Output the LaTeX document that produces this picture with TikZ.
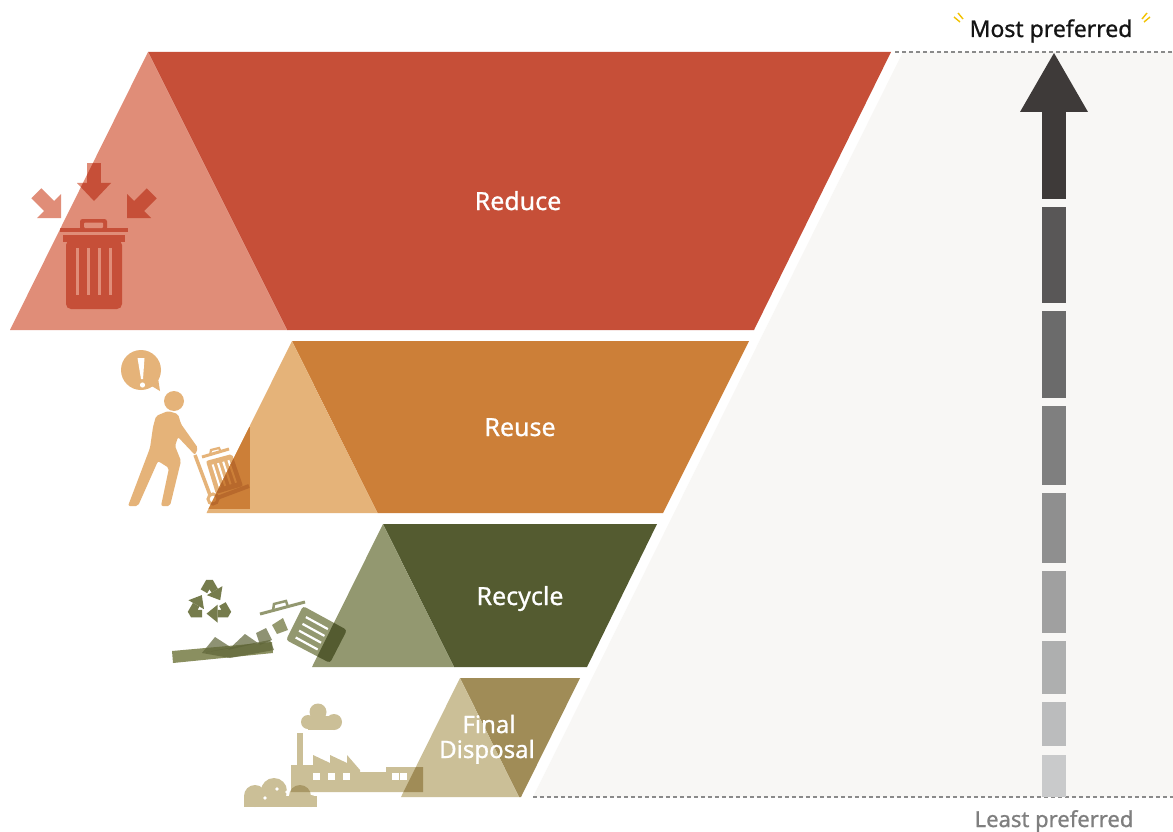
\documentclass[tikz,border=0pt]{standalone}
\usepackage{fontspec}
\setmainfont{Noto Sans}
\newfontfamily\medfont[FakeBold=0.9]{Noto Sans}
\definecolor{redD}{HTML}{C64F38}
\definecolor{redL}{HTML}{E08D78}
\definecolor{orgD}{HTML}{CC7F38}
\definecolor{orgL}{HTML}{E5B379}
\definecolor{orgX}{HTML}{B8692C}
\definecolor{grnD}{HTML}{545B30}
\definecolor{grnL}{HTML}{939870}
\definecolor{grnS}{HTML}{767C4D}
\definecolor{grnM}{HTML}{8A8F60}
\definecolor{grnK}{HTML}{5F6538}
\definecolor{tanD}{HTML}{A08C57}
\definecolor{tanL}{HTML}{CBBF97}
\definecolor{tanO}{HTML}{A99866}
\definecolor{bgG}{HTML}{F8F7F5}
\definecolor{dashG}{HTML}{8A8A8A}
\definecolor{spark}{HTML}{F2C200}
\newcommand\icnReduce[2]{%
 \fill[#1] (87,163) rectangle (101,183);
 \fill[#1] (77,183) -- (111,183) -- (94,201) -- cycle;
 \fill[#1] (61,218) -- (61,194) -- (54,201) -- (41.3,188.3) -- (31.3,198.3) -- (44,211) -- (37,218) -- cycle;
 \fill[#1] (127,218) -- (127,194) -- (134,201) -- (146.7,188.3) -- (156.7,198.3) -- (144,211) -- (151,218) -- cycle;
 \fill[#1] (60,228) rectangle (128,232);
 \fill[#1,rounded corners=2.5] (80,219) rectangle (107,230);
 \fill[#2,rounded corners=1] (84,222.5) rectangle (103,228);
 \fill[#1] (63,235) rectangle (125,242);
 \fill[#1,rounded corners=5] (66,240) -- (66,309) -- (122,309) -- (122,240) -- cycle;
 \foreach \sx in {76,87,98,109} {\fill[#2] (\sx,248) rectangle (\sx+3,295);}
}
\newcommand\icnCart[2]{%
 \draw[#1,line width=3.5] (195,455) -- (210,495);
 \draw[#1,line width=3] (213,499) circle (5);
 \draw[#1,line width=4] (217,498) -- (249,486);
 \draw[#1,line width=3] (202,457) -- (229,449);
 \draw[#1,line width=2.2] (210,455) -- (211,450) -- (219,448) -- (221,452);
 \fill[#1,rounded corners=2] (206,461) -- (232,454) -- (243,486) -- (216,494) -- cycle;
 \foreach \a/\b/\c/\d in {212.7/464.5/219.9/487.5, 218.0/463.1/225.2/485.9, 223.2/461.7/230.6/484.3, 228.4/460.2/236.0/482.7}
  {\draw[#2,line width=2] (\a,\b) -- (\c,\d);}
}
\newcommand\icnRecCan[2]{%
 \draw[#1,line width=3] (260,614) -- (305,602);
 \draw[#1,line width=2.5] (273,611) -- (274,604) -- (286,601) -- (288,607);
 \fill[#1,rounded corners=3] (303,606) -- (347,630) -- (330,663) -- (286,640) -- cycle;
 \foreach \a/\b/\c/\d in {305.9/617.1/327.9/629.1, 302.5/623.9/324.5/635.9, 299.1/630.7/321.1/642.7, 295.7/637.5/317.7/649.5}
  {\draw[#2,line width=2.2] (\a,\b) -- (\c,\d);}
}
\newcommand\icnFactory[1]{%
 \fill[#1] (318,712) circle (8.5);
 \fill[#1] (308,722) circle (7);
 \fill[#1] (334,722) circle (8);
 \fill[#1] (308,716) rectangle (334,730);
 \fill[#1] (297,733) rectangle (303,766);
 \fill[#1] (291,792) -- (291,765) -- (313,765) -- (313,755) -- (330,763) -- (330,755) -- (347,763) -- (347,755) -- (360,770) -- (360,772) -- (386,772) -- (386,767) -- (423,767) -- (423,792) -- cycle;
}
\newcommand\icnBush[1]{%
 \fill[#1] (255,796) circle (11);
 \fill[#1] (274,791) circle (13);
 \fill[#1] (300,796) circle (11);
 \fill[#1] (311,801) circle (6);
 \fill[#1] (244,796) rectangle (317,807);
}
\begin{document}
\begin{tikzpicture}[x=1pt,y=-1pt,
  bandlabel/.style={text=white,font=\medfont\fontsize{25}{22}\selectfont,inner sep=0pt,anchor=base},
  endlabel/.style={font=\medfont\fontsize{23}{26}\selectfont,inner sep=0pt,anchor=base},
  guide/.style={dashG,line width=1.1pt,dash pattern=on 4pt off 3pt},
  sparkline/.style={spark,line width=1.4pt}]
\useasboundingbox (0,0) rectangle (1173,832);
\fill[white] (0,0) rectangle (1173,832);
% grey background panel
\fill[bgG] (903,52) -- (1173,52) -- (1173,797) -- (533,797) -- cycle;
\draw[guide] (895,52) -- (1173,52);
\draw[guide] (533,797) -- (1173,797);
% preference arrow
\fill[fill={rgb,255:red,62;green,58;blue,57}] (1020,112) -- (1088,112) -- (1054,53) -- cycle;
\fill[fill={rgb,255:red,62;green,58;blue,57}] (1042,111) rectangle (1066,199);
\fill[fill={rgb,255:red,89;green,87;blue,87}] (1042,207) rectangle (1066,303);
\fill[fill={rgb,255:red,107;green,107;blue,107}] (1042,311) rectangle (1066,398);
\fill[fill={rgb,255:red,127;green,127;blue,127}] (1042,406) rectangle (1066,485);
\fill[fill={rgb,255:red,143;green,143;blue,143}] (1042,493) rectangle (1066,563);
\fill[fill={rgb,255:red,160;green,160;blue,160}] (1042,571) rectangle (1066,633);
\fill[fill={rgb,255:red,174;green,175;blue,175}] (1042,641) rectangle (1066,694);
\fill[fill={rgb,255:red,187;green,188;blue,189}] (1042,702) rectangle (1066,746);
\fill[fill={rgb,255:red,201;green,202;blue,203}] (1042,755) rectangle (1066,797);
\node[endlabel,text={rgb,255:red,20;green,20;blue,20}] (most) at (1051,37) {Most preferred};
\node[endlabel,text={rgb,255:red,127;green,127;blue,127},font=\medfont\fontsize{22}{26}\selectfont] (least) at (1054,827) {Least preferred};
\draw[sparkline] (963,19) -- (958,13);
\draw[sparkline] (960,22) -- (954,17);
\draw[sparkline] (1142,19) -- (1147,13);
\draw[sparkline] (1144,22) -- (1150,17);
% ---------- Reduce ----------
\fill[redD] (148,52) -- (891,52) -- (754,330) -- (287,330) -- cycle;
\fill[redL] (148,52) -- (10,330) -- (287,330) -- cycle;
\icnReduce{redL}{redL}
\begin{scope}
 \clip (148,52) -- (10,330) -- (287,330) -- cycle;
 \icnReduce{redD}{redL}
\end{scope}
\node[bandlabel] (reduce) at (518,210) {Reduce};
% ---------- Reuse ----------
\fill[orgD] (292,341) -- (749,341) -- (663,513) -- (377.5,513) -- cycle;
\fill[orgL] (292,341) -- (206.5,513) -- (377.5,513) -- cycle;
\fill[orgL] (141,370) circle (20);
\fill[orgL] (150,385) -- (160,391) -- (158,378) -- cycle;
\fill[white] (137.5,358) -- (144.5,358) -- (143,379) -- (141,379) -- cycle;
\fill[white] (142.5,385) circle (2.6);
\fill[orgL] (174,401) circle (10);
\fill[orgL,rounded corners=2] (156,416) -- (168,411) -- (178,414) -- (181,424) -- (198,448) -- (195,455) -- (178,437) -- (175,446) -- (181,461) -- (170,506) -- (161,506) -- (169,468) -- (158,461) -- (138,506) -- (128,506) -- (150,448) -- (153,427) -- cycle;
\icnCart{orgL}{white}
\begin{scope}
 \clip (292,341) -- (206.5,513) -- (377.5,513) -- cycle;
 \clip (150,427) rectangle (250,509);
 \fill[orgD] (150,427) rectangle (250,509);
 \icnCart{orgX}{orgD}
\end{scope}
\node[bandlabel] (reuse) at (520,436) {Reuse};
% ---------- Recycle ----------
\fill[grnD] (383,524) -- (657,524) -- (587,667) -- (454,667) -- cycle;
\fill[grnL] (383,524) -- (312,667) -- (454,667) -- cycle;
\foreach \ang in {0,120,240}{
 \begin{scope}[shift={(209.5,603)},rotate=\ang,scale=1.12]
  \draw[grnS,line width=7.5pt,line join=bevel] (-4.93,-10.45) -- (0,-19) -- (4.61,-11.02);
  \fill[grnS] (11.54,-15.02) -- (9.54,-2.47) -- (-2.32,-7.02) -- cycle;
 \end{scope}
}
\fill[grnM] (172,651) -- (272,642) -- (273,653) -- (173,663) -- cycle;
\fill[grnK,opacity=0.7] (202,653) -- (215,637) -- (232,648) -- cycle;
\fill[grnK,opacity=0.7] (228,650) -- (245,634) -- (258,643) -- cycle;
\fill[grnK,opacity=0.7] (202,653) -- (270,640) -- (274,650) -- (230,658) -- cycle;
\fill[grnK,opacity=0.7] (256,633) -- (266,628) -- (272,640) -- (260,645) -- cycle;
\fill[grnM,opacity=0.9] (272,625) -- (283,618) -- (288,630) -- (277,634) -- cycle;
\icnRecCan{grnL}{white}
\begin{scope}
 \clip (383,524) -- (312,667) -- (454,667) -- cycle;
 \icnRecCan{grnD}{grnL}
\end{scope}
\node[bandlabel] (recycle) at (520,605) {Recycle};
% ---------- Final Disposal ----------
\fill[tanD] (460,678) -- (580,678) -- (521,797) -- (519,797) -- cycle;
\fill[tanL] (460,678) -- (401,797) -- (519,797) -- cycle;
\icnFactory{tanL}
\icnBush{tanL}
\begin{scope}
 \clip (291,792) -- (291,765) -- (313,765) -- (313,755) -- (330,763) -- (330,755) -- (347,763) -- (347,755) -- (360,770) -- (360,772) -- (386,772) -- (386,767) -- (423,767) -- (423,792) -- cycle;
 \icnBush{tanO}
\end{scope}
\begin{scope}
 \clip (460,678) -- (401,797) -- (519,797) -- cycle;
 \icnFactory{tanD}
\end{scope}
\foreach \wx in {313,328,343,392,400} {\fill[white] (\wx,773) rectangle (\wx+7,780);}
\fill[white] (265,798) circle (1.8);
\fill[white] (277,789) circle (1.8);
\fill[white] (287,792) circle (1.8);
\node[bandlabel,font=\medfont\fontsize{24}{22}\selectfont] (final1) at (489,733) {Final};
\node[bandlabel,font=\medfont\fontsize{24}{22}\selectfont] (final2) at (487,758) {Disposal};
\end{tikzpicture}
\end{document}
